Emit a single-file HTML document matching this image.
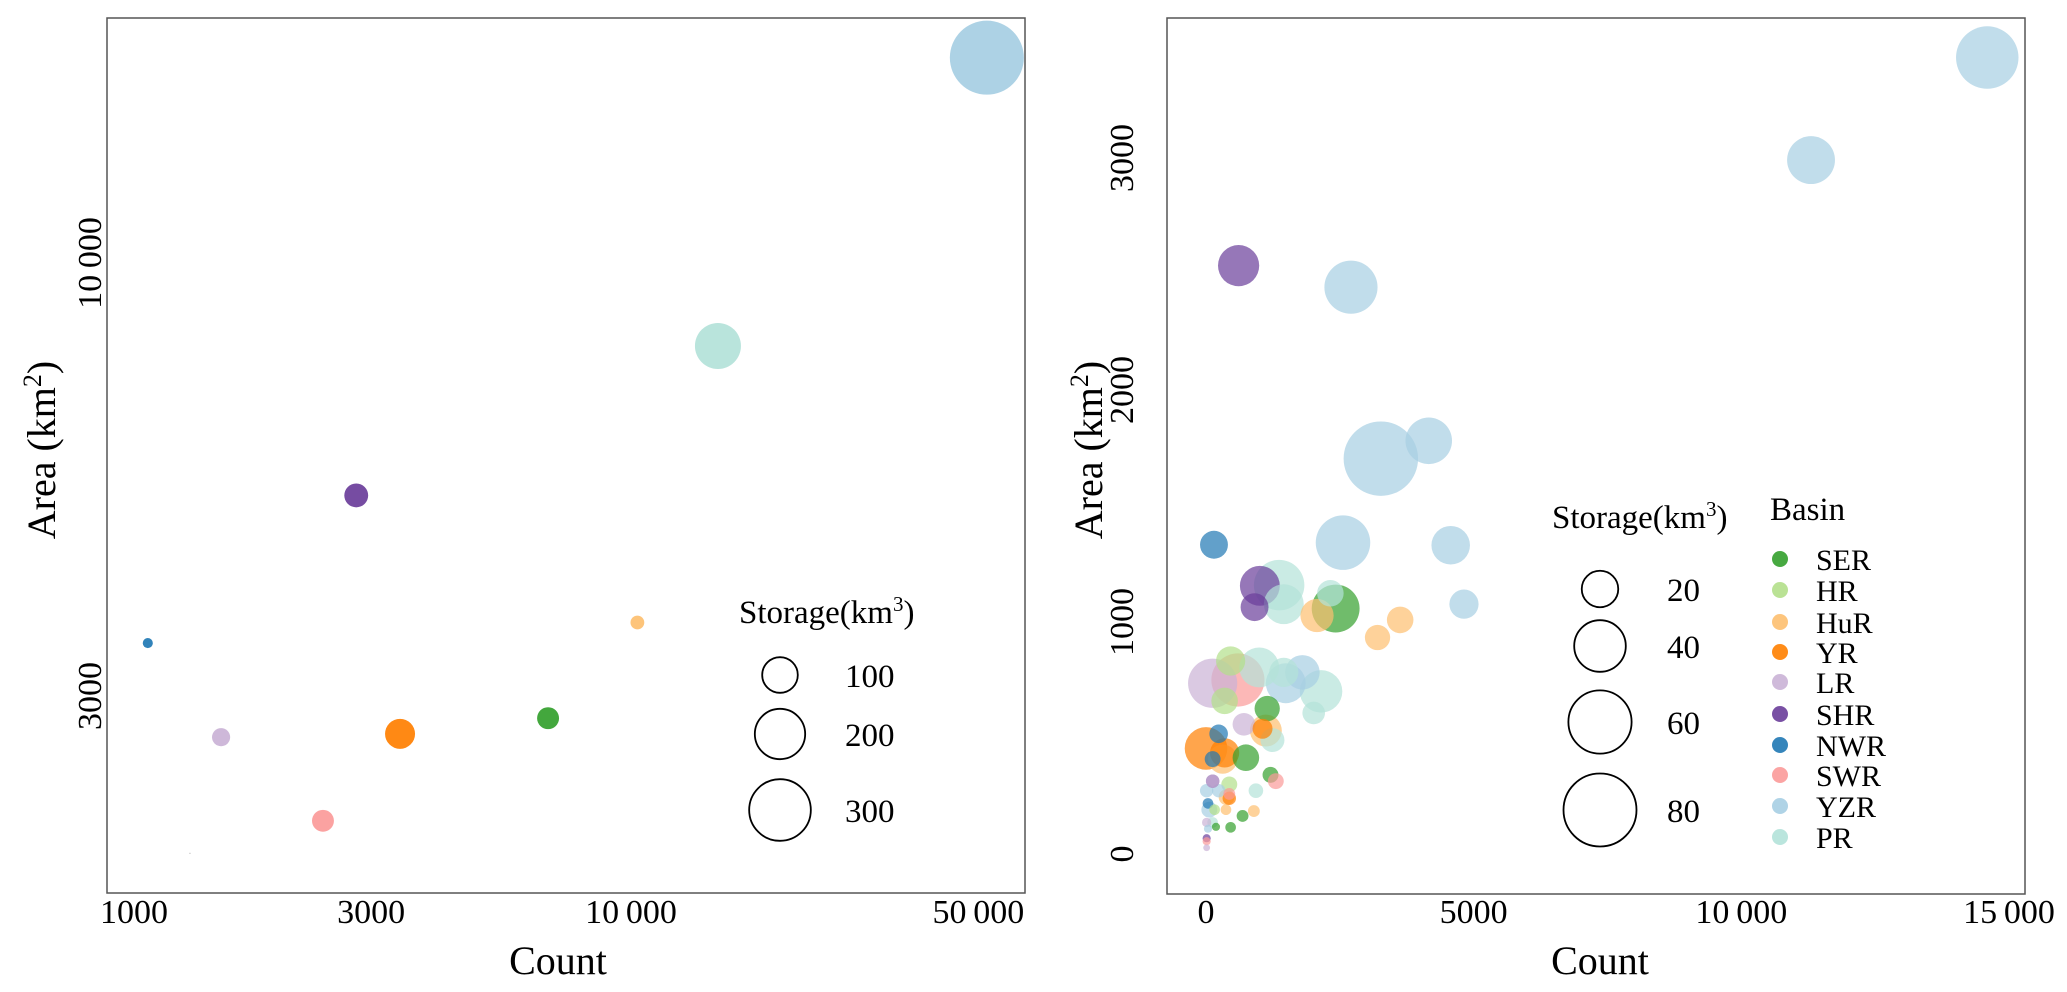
<!DOCTYPE html>
<html><head><meta charset="utf-8"><style>
html,body{margin:0;padding:0;background:#fff;}
svg{display:block;font-family:"Liberation Serif",serif;}
</style></head><body>
<svg id="chart" width="2067" height="992" viewBox="0 0 2067 992" xmlns="http://www.w3.org/2000/svg">
<g id="left"></g>
<g id="right"></g>
</svg>
<script>
// ---------- Left panel data ----------
const leftBasins = ["YZR","PR","SHR","HuR","NWR","SER","YR","LR","SWR","TINY"];
const leftCount = [52000,14960,2800,10300,1066,6810,3430,1497,2400,1296];
const leftArea = [17700,7940,5240,3680,3475,2820,2700,2675,2120,1937];
const leftStorage = [432,167,45,15,8,38,71,26,38,0.1];
const leftXTicks = [1000,3000,10000,50000];
const leftXTickLabels = ["1000","3000","10\u2009000","50\u2009000"];
const leftYTicks = [3000,10000];
const leftYTickLabels = ["3000","10\u2009000"];
const leftSizeLegend = [100,200,300];

// ---------- Right panel data ----------
const rightBasin = [
"YZR","YZR","YZR","YZR","YZR","YZR","YZR","YZR","YZR","YZR","YZR","YZR","YZR","YZR",
"SHR","SHR","SHR","SHR","SHR",
"NWR","NWR","NWR","NWR",
"PR","PR","PR","PR","PR","PR","PR","PR","PR","PR",
"SER","SER","SER","SER","SER","SER","SER",
"HuR","HuR","HuR","HuR","HuR","HuR","HuR","HuR",
"YR","YR","YR","YR",
"LR","LR","LR","LR","LR",
"HR","HR","HR","HR",
"SWR","SWR","SWR","SWR"];
const rightCount = [
14594,11302,2708,3266,4161,2559,4571,4819,1801,1490,12,62,236,37,
609,1006,907,124,12,
149,236,124,37,
1366,1453,2323,994,1453,2149,2012,1242,932,124,
2422,1143,745,1205,683,460,186,
2074,3627,3204,1118,311,385,894,373,
0,348,1056,435,
124,708,124,12,12,
460,348,435,161,
596,1304,435,12];
const rightArea = [
3433,2991,2443,1704,1781,1342,1331,1077,783,736,273,191,273,109,
2536,1156,1064,314,68,
1333,518,409,218,
1159,1077,1124,804,783,701,608,491,273,136,
1058,627,415,341,164,115,117,
1028,1009,933,532,409,245,185,191,
455,436,540,240,
736,559,314,136,27,
832,660,300,191,
750,314,259,55];
const rightStorage = [
58.6,34.4,42.4,83.2,32.5,44.6,22.3,12.8,17.9,23.9,2.7,3.8,2.7,1.0,
25.5,23.9,11.7,2.7,1.0,
11.7,5.2,3.8,1.7,
38.3,23.9,10.6,23.9,12.8,27.2,7.7,8.6,3.2,1.7,
34.4,9.6,10.6,3.8,2.1,1.7,1.0,
16.6,10.6,9.6,15.3,12.8,3.8,2.1,1.7,
27.2,12.8,6.0,2.7,
36.3,7.7,2.7,1.3,0.7,
12.8,10.6,3.8,1.7,
42.4,3.8,2.1,1.0];
const rightXTicks = [0,5000,10000,15000];
const rightXTickLabels = ["0","5000","10\u2009000","15\u2009000"];
const rightYTicks = [0,1000,2000,3000];
const rightYTickLabels = ["0","1000","2000","3000"];
const rightSizeLegend = [20,40,60,80];
const legendBasins = ["SER","HR","HuR","YR","LR","SHR","NWR","SWR","YZR","PR"];

const colors = {SER:"#33a02c",HR:"#b2df8a",HuR:"#fdbf6f",YR:"#ff7f00",LR:"#cab2d6",
  SHR:"#6a3d9a",NWR:"#1f78b4",SWR:"#fb9a99",YZR:"#a6cee3",PR:"#b3e2d9",TINY:"#999999"};

const NS="http://www.w3.org/2000/svg";
function mk(parent, tag, attrs, text){
  const e=document.createElementNS(NS,tag);
  for(const k in attrs) e.setAttribute(k,attrs[k]);
  if(text!==undefined) e.textContent=text;
  parent.appendChild(e); return e;
}

// ---------- Left panel ----------
(function(){
  const g=document.getElementById('left');
  const L=107,R=1025,T=18,B=893;
  const xs=v=>134+(Math.log10(v)-3)*497;
  const ys=v=>263+(4-Math.log10(v))*828;
  const rs=s=>1.78*Math.sqrt(s);
  const box=mk(g,'rect',{x:L,y:T,width:R-L,height:B-T,fill:'none',stroke:'#555',"stroke-width":1.5});
  
  
  for(let i=0;i<leftCount.length;i++){
    const c=mk(g,'circle',{cx:xs(leftCount[i]),cy:ys(leftArea[i]),r:rs(leftStorage[i]),fill:colors[leftBasins[i]],"fill-opacity":0.92});
    
    
  }
  leftXTicks.forEach((v,i)=>{
    const t=mk(g,'text',{x:xs(v),y:923,"font-size":34,"text-anchor":"middle"},leftXTickLabels[i]);
    
    
  });
  leftYTicks.forEach((v,i)=>{
    const t=mk(g,'text',{x:0,y:0,"font-size":34,"text-anchor":"middle",transform:`translate(101,${ys(v)}) rotate(-90)`},leftYTickLabels[i]);
    
    
  });
  const xt=mk(g,'text',{x:558,y:974,"font-size":40,"text-anchor":"middle"},"Count");
  
  
  const yt=mk(g,'text',{x:0,y:0,"font-size":40,"text-anchor":"middle",transform:"translate(55,450) rotate(-90)"});
  
  
  yt.innerHTML='Area (km<tspan dy="-14" font-size="26">2</tspan><tspan dy="14">)</tspan>';
  const lt=mk(g,'text',{x:739,y:623,"font-size":33});
  
  
  lt.innerHTML='Storage(km<tspan dy="-12" font-size="21">3</tspan><tspan dy="12">)</tspan>';
  const ly=[675,734,810];
  leftSizeLegend.forEach((v,i)=>{
    const c=mk(g,'circle',{cx:780,cy:ly[i],r:rs(v),fill:'none',stroke:'#000',"stroke-width":1.8});
    
    
    const t=mk(g,'text',{x:845,y:ly[i]+12,"font-size":33},String(v));
    
    
  });
})();

// ---------- Right panel ----------
(function(){
  const g=document.getElementById('right');
  const L=1167,R=2025,T=18,B=894;
  const xs=v=>1206+v/15000*803;
  const ys=v=>854-v/3000*696;
  const rs=s=>4.08*Math.sqrt(s);
  const box=mk(g,'rect',{x:L,y:T,width:R-L,height:B-T,fill:'none',stroke:'#555',"stroke-width":1.5});
  
  
  // draw larger first
  const idx=rightCount.map((_,i)=>i).sort((a,b)=>rightStorage[b]-rightStorage[a]);
  idx.forEach(i=>{
    const c=mk(g,'circle',{cx:xs(rightCount[i]),cy:ys(rightArea[i]),r:rs(rightStorage[i]),fill:colors[rightBasin[i]],"fill-opacity":0.7});
    
    
  });
  rightXTicks.forEach((v,i)=>{
    const t=mk(g,'text',{x:xs(v),y:923,"font-size":34,"text-anchor":"middle"},rightXTickLabels[i]);
    
    
  });
  rightYTicks.forEach((v,i)=>{
    const t=mk(g,'text',{x:0,y:0,"font-size":34,"text-anchor":"middle",transform:`translate(1133,${ys(v)}) rotate(-90)`},rightYTickLabels[i]);
    
    
  });
  const xt=mk(g,'text',{x:1600,y:974,"font-size":40,"text-anchor":"middle"},"Count");
  
  
  const yt=mk(g,'text',{x:0,y:0,"font-size":40,"text-anchor":"middle",transform:"translate(1102,450) rotate(-90)"});
  
  
  yt.innerHTML='Area (km<tspan dy="-14" font-size="26">2</tspan><tspan dy="14">)</tspan>';
  const lt=mk(g,'text',{x:1552,y:528,"font-size":33});
  
  
  lt.innerHTML='Storage(km<tspan dy="-12" font-size="21">3</tspan><tspan dy="12">)</tspan>';
  const ly=[589,646,722,810];
  rightSizeLegend.forEach((v,i)=>{
    const c=mk(g,'circle',{cx:1600,cy:ly[i],r:rs(v),fill:'none',stroke:'#000',"stroke-width":1.8});
    
    
    const t=mk(g,'text',{x:1667,y:ly[i]+12,"font-size":33},String(v));
    
    
  });
  const bt=mk(g,'text',{x:1770,y:520,"font-size":33},"Basin");
  
  
  const by=[559,590,622,652,682,714,745,775,806,837];
  legendBasins.forEach((b,i)=>{
    const c=mk(g,'circle',{cx:1780,cy:by[i],r:8,fill:colors[b],"fill-opacity":0.9});
    
    
    const t=mk(g,'text',{x:1816,y:by[i]+11,"font-size":30},b);
    
    
  });
})();
</script>
</body></html>
